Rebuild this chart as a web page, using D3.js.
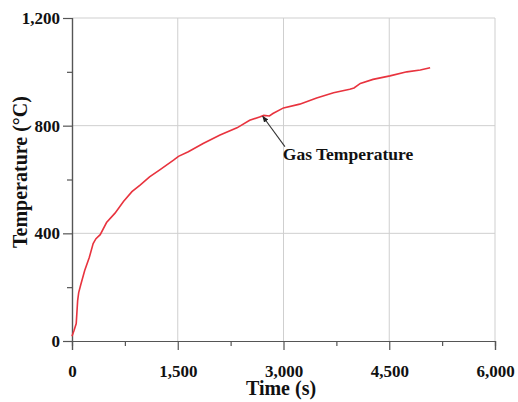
<!DOCTYPE html>
<html>
<head>
<meta charset="utf-8">
<script src="https://cdn.jsdelivr.net/npm/d3@7"></script>
<style>
  html, body { margin: 0; padding: 0; background: #fff; }
  svg text { font-family: "Liberation Serif", "Times New Roman", serif; font-weight: bold; fill: #111; }
</style>
</head>
<body>
<div id="chart"></div>
<script>
// gas temperature curve
const times = [0, 30, 60, 80, 95, 125, 180, 245, 300, 340, 400, 490, 610, 730, 850, 970, 1100, 1250, 1440, 1510, 1650, 1860, 2100, 2340, 2520, 2660, 2720, 2800, 2850, 3000, 3230, 3470, 3710, 3940, 4000, 4090, 4270, 4510, 4750, 4940, 5080];
const temps = [18, 40, 65, 150, 180, 210, 262, 310, 362, 380, 395, 440, 475, 518, 555, 580, 610, 637, 672, 686, 703, 734, 765, 792, 820, 832, 838, 836, 845, 866, 880, 903, 922, 935, 940, 957, 972, 985, 1000, 1007, 1015];

const xTicks = [0, 1500, 3000, 4500, 6000];
const xMinor = [750, 2250, 3750, 5250];
const yTicks = [0, 400, 800, 1200];
const yMinor = [200, 600, 1000];

const seriesLabel = "Gas Temperature";
const labelAt = [2990, 672];
const arrowFrom = [3020, 722];
const arrowTo = [2705, 835];

const width = 518, height = 402;
const margin = { top: 18, right: 23, bottom: 61, left: 72 };
const w = width - margin.left - margin.right;
const h = height - margin.top - margin.bottom;

const svg = d3.select('#chart').append('svg')
  .attr('width', width)
  .attr('height', height);

const g = svg.append('g')
  .attr('transform', `translate(${margin.left},${margin.top})`);

const x = d3.scaleLinear().domain([0, 6000]).range([0, w]);
const y = d3.scaleLinear().domain([0, 1200]).range([h, 0]);

// grid
g.append('g').selectAll('line')
  .data(xTicks.slice(1))
  .enter().append('line')
  .attr('x1', d => x(d)).attr('x2', d => x(d))
  .attr('y1', 0).attr('y2', h)
  .attr('stroke', '#cfcfcf').attr('stroke-width', 1);

g.append('g').selectAll('line')
  .data(yTicks.slice(1))
  .enter().append('line')
  .attr('x1', 0).attr('x2', w)
  .attr('y1', d => y(d)).attr('y2', d => y(d))
  .attr('stroke', '#cfcfcf').attr('stroke-width', 1);

// minor ticks
const xMinorAxis = d3.axisBottom(x).tickValues(xMinor).tickSize(5).tickFormat('');
const xm = g.append('g').attr('transform', `translate(0,${h})`).call(xMinorAxis);
const yMinorAxis = d3.axisLeft(y).tickValues(yMinor).tickSize(5).tickFormat('');
const ym = g.append('g').call(yMinorAxis);

// major axes
const xAxis = d3.axisBottom(x).tickValues(xTicks).tickSize(9).tickPadding(15).tickFormat(d3.format(','));
const xa = g.append('g').attr('transform', `translate(0,${h})`).call(xAxis);
const yAxis = d3.axisLeft(y).tickValues(yTicks).tickSize(9).tickPadding(3).tickFormat(d3.format(','));
const ya = g.append('g').call(yAxis);

[xm, ym, xa, ya].forEach(a => {
  a.select('.domain').attr('stroke', '#555').attr('stroke-width', 1.2);
  a.selectAll('.tick line').attr('stroke', '#555').attr('stroke-width', 1.2);
  a.selectAll('.tick text')
    .attr('font-family', '"Liberation Serif", serif')
    .attr('font-weight', 'bold')
    .attr('font-size', 17)
    .attr('fill', '#111');
});

// curve
const pts = times.map((t, i) => [t, temps[i]]);
const line = d3.line().x(d => x(d[0])).y(d => y(d[1]));
g.append('path')
  .datum(pts)
  .attr('d', line)
  .attr('fill', 'none')
  .attr('stroke', '#e8333e')
  .attr('stroke-width', 1.6);

// annotation
svg.append('defs').append('marker')
  .attr('id', 'arr')
  .attr('viewBox', '0 0 10 10')
  .attr('refX', 9).attr('refY', 5)
  .attr('markerWidth', 6).attr('markerHeight', 6)
  .attr('orient', 'auto')
  .append('path').attr('d', 'M0,1L10,5L0,9Z').attr('fill', '#222');

g.append('line')
  .attr('x1', x(arrowFrom[0])).attr('y1', y(arrowFrom[1]))
  .attr('x2', x(arrowTo[0])).attr('y2', y(arrowTo[1]))
  .attr('stroke', '#333').attr('stroke-width', 1.1)
  .attr('marker-end', 'url(#arr)');

g.append('text')
  .attr('x', x(labelAt[0])).attr('y', y(labelAt[1]))
  .attr('font-size', 17.5)
  .text(seriesLabel);

// axis titles
svg.append('text')
  .attr('x', 281).attr('y', 395)
  .attr('text-anchor', 'middle')
  .attr('font-size', 20)
  .text('Time (s)');

svg.append('text')
  .attr('transform', 'translate(27,172) rotate(-90)')
  .attr('text-anchor', 'middle')
  .attr('font-size', 20)
  .text('Temperature (°C)');
</script>
</body>
</html>
